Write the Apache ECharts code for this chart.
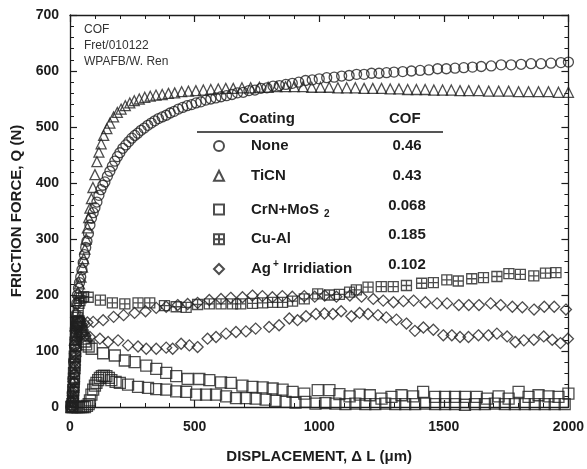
<!DOCTYPE html>
<html>
<head>
<meta charset="utf-8">
<script src="https://cdn.jsdelivr.net/npm/echarts@6/dist/echarts.min.js"></script>
<style>
  html, body { margin: 0; padding: 0; background: #fff; }
  #chart { width: 587px; height: 469px; }
</style>
</head>
<body>
<div id="chart"></div>
<script>
// Fretting test: friction force vs. displacement for five coatings

const coatings = ['None', 'TiCN', 'CrN+MoS2', 'Cu-Al', 'Ag+ Irridiation'];
const cofValues = ['0.46', '0.43', '0.068', '0.185', '0.102'];
const xTicks = [0, 500, 1000, 1500, 2000];
const yTicks = [0, 100, 200, 300, 400, 500, 600, 700];

// None (circles)
const xNone = [3, 6, 9, 12, 15, 18, 21, 24, 27, 30, 34, 38, 43, 48, 53, 58, 63, 68, 74, 80, 86, 93, 100, 108, 116, 124, 132, 140, 150, 160, 170, 180, 190, 200, 212, 224, 236, 248, 260, 272, 285, 298, 312, 326, 340, 355, 370, 386, 402, 418, 435, 452, 470, 488, 506, 525, 545, 565, 585, 606, 628, 650, 672, 695, 718, 742, 766, 790, 815, 840, 866, 892, 918, 945, 972, 1000, 1030, 1060, 1090, 1120, 1150, 1180, 1210, 1240, 1270, 1300, 1335, 1370, 1405, 1440, 1475, 1510, 1545, 1580, 1615, 1650, 1690, 1730, 1770, 1810, 1850, 1890, 1930, 1970, 2000];
const yNone = [0, 8, 25, 50, 80, 110, 140, 165, 185, 200, 212, 222, 232, 245, 258, 272, 285, 296, 310, 325, 337, 347, 356, 366, 378, 388, 396, 402, 412, 421, 430, 439, 447, 454, 462, 468, 474, 480, 485, 489, 494, 498, 503, 507, 511, 515, 518, 521, 525, 528, 532, 535, 538, 540, 543, 545, 548, 550, 552, 554, 556, 558, 561, 562, 565, 566, 569, 570, 573, 574, 576, 578, 580, 583, 584, 586, 588, 589, 591, 592, 594, 594, 596, 596, 597, 598, 599, 600, 601, 602, 604, 604, 605, 606, 607, 608, 609, 611, 611, 612, 613, 613, 614, 615, 616];

// TiCN (triangles)
const xTiCN = [5, 8, 10, 12, 14, 16, 18, 20, 23, 27, 32, 38, 44, 50, 55, 60, 65, 70, 75, 80, 86, 92, 100, 108, 116, 125, 135, 148, 160, 175, 190, 205, 222, 240, 258, 278, 300, 322, 345, 370, 395, 420, 448, 475, 505, 535, 565, 595, 625, 655, 690, 725, 760, 795, 830, 865, 900, 935, 970, 1005, 1040, 1075, 1110, 1145, 1180, 1215, 1250, 1285, 1320, 1355, 1390, 1425, 1460, 1495, 1530, 1565, 1600, 1640, 1680, 1720, 1760, 1800, 1840, 1880, 1920, 1960, 2000];
const yTiCN = [0, 10, 25, 45, 70, 95, 120, 145, 170, 190, 205, 220, 232, 250, 265, 282, 300, 320, 338, 355, 372, 392, 415, 438, 455, 470, 485, 497, 507, 518, 526, 532, 538, 543, 547, 550, 553, 555, 557, 558, 560, 561, 563, 564, 565, 566, 567, 568, 569, 569, 570, 570, 571, 571, 572, 572, 572, 572, 571, 571, 571, 570, 570, 570, 569, 569, 569, 568, 568, 567, 567, 567, 566, 566, 566, 565, 565, 565, 564, 564, 564, 563, 563, 563, 563, 562, 562];

// CrN+MoS2 (squares), upper run
const xCrNa = [8, 10, 12, 13, 15, 16, 18, 19, 21, 22, 24, 25, 27, 28, 30, 32, 34, 36, 38, 41, 44, 47, 51, 55, 60, 65, 75, 87, 133, 180, 220, 259, 306, 346, 386, 426, 472, 519, 559, 606, 645, 692, 732, 773, 813, 853, 893, 940, 994, 1041, 1081, 1122, 1162, 1203, 1250, 1290, 1330, 1377, 1417, 1465, 1505, 1545, 1585, 1632, 1673, 1720, 1760, 1800, 1840, 1880, 1920, 1960, 2000];
const yCrNa = [0, 5, 18, 30, 45, 60, 75, 90, 102, 115, 126, 135, 142, 148, 151, 152, 153, 150, 147, 143, 139, 135, 128, 122, 117, 112, 108, 104, 96, 92, 83, 80, 74, 68, 61, 55, 50, 50, 48, 44, 43, 38, 36, 35, 33, 31, 27, 24, 30, 30, 23, 19, 22, 21, 15, 18, 21, 19, 27, 18, 18, 18, 18, 18, 15, 19, 15, 27, 18, 21, 19, 18, 24];
// CrN+MoS2 (squares), lower run
const xCrNb = [5, 12, 20, 28, 36, 44, 52, 60, 68, 75, 80, 86, 93, 100, 106, 113, 120, 128, 136, 146, 156, 166, 183, 200, 233, 273, 313, 346, 386, 426, 466, 506, 546, 586, 626, 666, 706, 745, 785, 825, 865, 905, 945, 985, 1025, 1065, 1105, 1145, 1185, 1225, 1265, 1305, 1345, 1385, 1425, 1465, 1505, 1545, 1585, 1625, 1665, 1705, 1745, 1785, 1825, 1865, 1905, 1945, 1985];
const yCrNb = [0, 0, 0, 0, 0, 0, 0, 0, 2, 5, 12, 22, 31, 38, 43, 48, 52, 55, 56, 55, 52, 48, 45, 43, 40, 36, 34, 32, 31, 28, 27, 22, 22, 22, 19, 16, 16, 15, 13, 11, 9, 8, 9, 6, 7, 6, 5, 6, 5, 5, 6, 5, 5, 5, 6, 5, 5, 5, 4, 5, 5, 6, 5, 5, 5, 5, 5, 5, 5];

// Cu-Al (boxed crosses)
const xCuAl = [10, 12, 14, 16, 18, 20, 22, 24, 26, 28, 30, 33, 36, 40, 45, 55, 73, 122, 170, 220, 273, 320, 379, 426, 466, 512, 559, 606, 652, 685, 732, 773, 813, 853, 893, 940, 994, 1041, 1081, 1122, 1149, 1196, 1249, 1297, 1350, 1411, 1458, 1512, 1558, 1612, 1659, 1713, 1761, 1807, 1861, 1908, 1950];
const yCuAl = [0, 10, 20, 35, 50, 70, 90, 110, 130, 145, 160, 172, 185, 190, 195, 197, 196, 191, 186, 184, 186, 186, 181, 179, 178, 183, 184, 184, 184, 184, 185, 186, 187, 187, 189, 193, 202, 200, 201, 205, 209, 214, 215, 215, 217, 221, 222, 227, 225, 229, 231, 233, 238, 237, 234, 239, 240];

// Ag+ irradiation (diamonds), upper run
const xAga = [8, 10, 11, 13, 14, 16, 17, 19, 20, 22, 23, 25, 26, 28, 30, 40, 55, 70, 93, 133, 175, 215, 259, 303, 346, 386, 432, 472, 512, 559, 606, 645, 692, 732, 772, 812, 852, 892, 940, 982, 1022, 1069, 1123, 1170, 1217, 1257, 1298, 1338, 1379, 1426, 1473, 1513, 1560, 1600, 1641, 1688, 1728, 1775, 1815, 1862, 1903, 1943, 1990];
const yAga = [0, 10, 20, 32, 45, 58, 70, 82, 95, 108, 120, 130, 140, 146, 150, 153, 150, 151, 152, 155, 161, 164, 168, 171, 177, 179, 182, 184, 186, 191, 193, 195, 196, 199, 198, 196, 198, 197, 198, 197, 199, 197, 199, 197, 193, 190, 187, 189, 190, 187, 185, 185, 182, 182, 182, 185, 182, 179, 178, 174, 179, 179, 174];
// Ag+ irradiation (diamonds), lower run
const xAgb = [10, 12, 14, 16, 18, 20, 22, 25, 27, 31, 35, 42, 50, 62, 80, 120, 153, 193, 233, 273, 306, 346, 386, 412, 446, 479, 512, 552, 586, 626, 666, 706, 745, 799, 839, 880, 913, 947, 987, 1021, 1055, 1088, 1129, 1162, 1196, 1236, 1269, 1310, 1350, 1384, 1418, 1458, 1498, 1532, 1565, 1599, 1639, 1679, 1713, 1754, 1787, 1821, 1861, 1901, 1935, 1968, 1998];
const yAgb = [0, 15, 30, 45, 60, 75, 90, 103, 115, 122, 128, 131, 130, 128, 125, 122, 116, 119, 110, 108, 104, 104, 106, 104, 113, 110, 107, 122, 125, 131, 134, 135, 140, 143, 146, 158, 155, 162, 166, 167, 166, 171, 162, 168, 166, 164, 160, 156, 149, 136, 142, 138, 128, 128, 125, 125, 128, 128, 131, 126, 116, 119, 120, 126, 120, 114, 122];

const zip = (xs, ys) => xs.map((x, i) => [x, ys[i]]);

const ink = '#1c1c1c';
const markStroke = '#202020';
const hollow = { color: 'rgba(0,0,0,0)', borderColor: markStroke, borderWidth: 1.3 };
const boxCross = 'path://M0,0H10V10H0Z M5,0V10 M0,5H10';

const font = '"Liberation Sans", Arial, sans-serif';

function scatter(name, symbol, size, xs, ys) {
  return {
    name: name,
    type: 'scatter',
    symbol: symbol,
    symbolSize: size,
    data: zip(xs, ys),
    itemStyle: hollow,
    emphasis: { disabled: true },
    silent: true,
    clip: false,
    z: 3
  };
}

const gridBox = { left: 70, right: 16, top: 15, bottom: 58 };

const baseX = {
  type: 'value', min: 0, max: 2000, interval: 500,
  axisLine: { show: true, onZero: false, lineStyle: { color: ink, width: 1.3 } },
  axisTick: { show: true, inside: true, length: 7, lineStyle: { color: ink, width: 1.2 } },
  minorTick: { show: true, splitNumber: 5, length: 4, lineStyle: { color: ink, width: 1 } },
  splitLine: { show: false }
};
const baseY = {
  type: 'value', min: 0, max: 700, interval: 100,
  axisLine: { show: true, onZero: false, lineStyle: { color: ink, width: 1.3 } },
  axisTick: { show: true, inside: true, length: 7, lineStyle: { color: ink, width: 1.2 } },
  minorTick: { show: true, splitNumber: 5, length: 4, lineStyle: { color: ink, width: 1 } },
  splitLine: { show: false }
};

const legendLabels = {
  'None': '{n|None}',
  'TiCN': '{n|TiCN}',
  'CrN+MoS2': '{n|CrN+MoS}{sub|2}',
  'Cu-Al': '{n|Cu-Al}',
  'Ag+ Irridiation': '{n|Ag}{sup|+}{m| Irridiation}'
};

// Legend table geometry
const rowTop = 136;
const rowStep = 29.75;

const chart = echarts.init(document.getElementById('chart'), null, { renderer: 'canvas' });

chart.setOption({
  animation: false,
  backgroundColor: '#fff',
  textStyle: { fontFamily: font },
  grid: gridBox,
  xAxis: [
    Object.assign({}, baseX, {
      position: 'bottom',
      name: 'DISPLACEMENT, \u0394 L (\u03bcm)',
      nameLocation: 'middle',
      nameGap: 42,
      nameTextStyle: { color: ink, fontSize: 15, fontWeight: 'bold', fontFamily: font },
      axisLabel: {
        show: true, margin: 13, color: ink, fontSize: 14, fontWeight: 'bold', fontFamily: font,
        formatter: v => (xTicks.includes(v) ? String(v) : '')
      }
    }),
    Object.assign({}, baseX, { position: 'top', axisLabel: { show: false } })
  ],
  yAxis: [
    Object.assign({}, baseY, {
      position: 'left',
      name: 'FRICTION FORCE, Q (N)',
      nameLocation: 'middle',
      nameGap: 46,
      nameTextStyle: { color: ink, fontSize: 15, fontWeight: 'bold', fontFamily: font },
      axisLabel: {
        show: true, margin: 11, color: ink, fontSize: 14, fontWeight: 'bold', fontFamily: font,
        formatter: v => (yTicks.includes(v) ? String(v) : '')
      }
    }),
    Object.assign({}, baseY, { position: 'right', axisLabel: { show: false } })
  ],
  legend: {
    data: coatings,
    orient: 'vertical',
    left: 213,
    top: rowTop,
    padding: 0,
    itemWidth: 10,
    itemHeight: 10,
    itemGap: rowStep - 20,
    selectedMode: false,
    formatter: name => legendLabels[name],
    textStyle: {
      color: ink,
      fontFamily: font,
      lineHeight: 20,
      rich: {
        n: { fontSize: 15, fontWeight: 'bold', color: ink, fontFamily: font, lineHeight: 20, padding: [0, 0, 0, 22] },
        m: { fontSize: 15, fontWeight: 'bold', color: ink, fontFamily: font, lineHeight: 20 },
        sub: { fontSize: 10, fontWeight: 'bold', color: ink, fontFamily: font, lineHeight: 20, verticalAlign: 'bottom', padding: [14, 0, 0, 5] },
        sup: { fontSize: 10, fontWeight: 'bold', color: ink, fontFamily: font, lineHeight: 20, verticalAlign: 'top', padding: [0, 0, 10, 2] }
      }
    }
  },
  graphic: [
    { type: 'text', left: 84, top: 24, style: { text: 'COF', fill: '#333', font: '12px ' + font } },
    { type: 'text', left: 84, top: 40, style: { text: 'Fret/010122', fill: '#333', font: '12px ' + font } },
    { type: 'text', left: 84, top: 56, style: { text: 'WPAFB/W. Ren', fill: '#333', font: '12px ' + font } },
    { type: 'text', left: 239, top: 111, style: { text: 'Coating', fill: ink, font: 'bold 15px ' + font } },
    { type: 'text', left: 389, top: 111, style: { text: 'COF', fill: ink, font: 'bold 15px ' + font } },
    { type: 'line', shape: { x1: 197, y1: 132, x2: 443, y2: 132 }, style: { stroke: ink, lineWidth: 1.3 } }
  ].concat(cofValues.map((v, i) => ({
    type: 'text',
    x: 407,
    y: rowTop + 10 + i * rowStep,
    style: { text: v, fill: ink, font: 'bold 15px ' + font, textAlign: 'center', textVerticalAlign: 'middle' }
  }))),
  series: [
    scatter('None', 'circle', 10, xNone, yNone),
    scatter('TiCN', 'triangle', 10, xTiCN, yTiCN),
    scatter('CrN+MoS2', 'rect', 11, xCrNa, yCrNa),
    scatter('CrN+MoS2', 'rect', 11, xCrNb, yCrNb),
    scatter('Cu-Al', boxCross, 10, xCuAl, yCuAl),
    scatter('Ag+ Irridiation', 'diamond', 11, xAga, yAga),
    scatter('Ag+ Irridiation', 'diamond', 11, xAgb, yAgb)
  ]
});
</script>
</body>
</html>
